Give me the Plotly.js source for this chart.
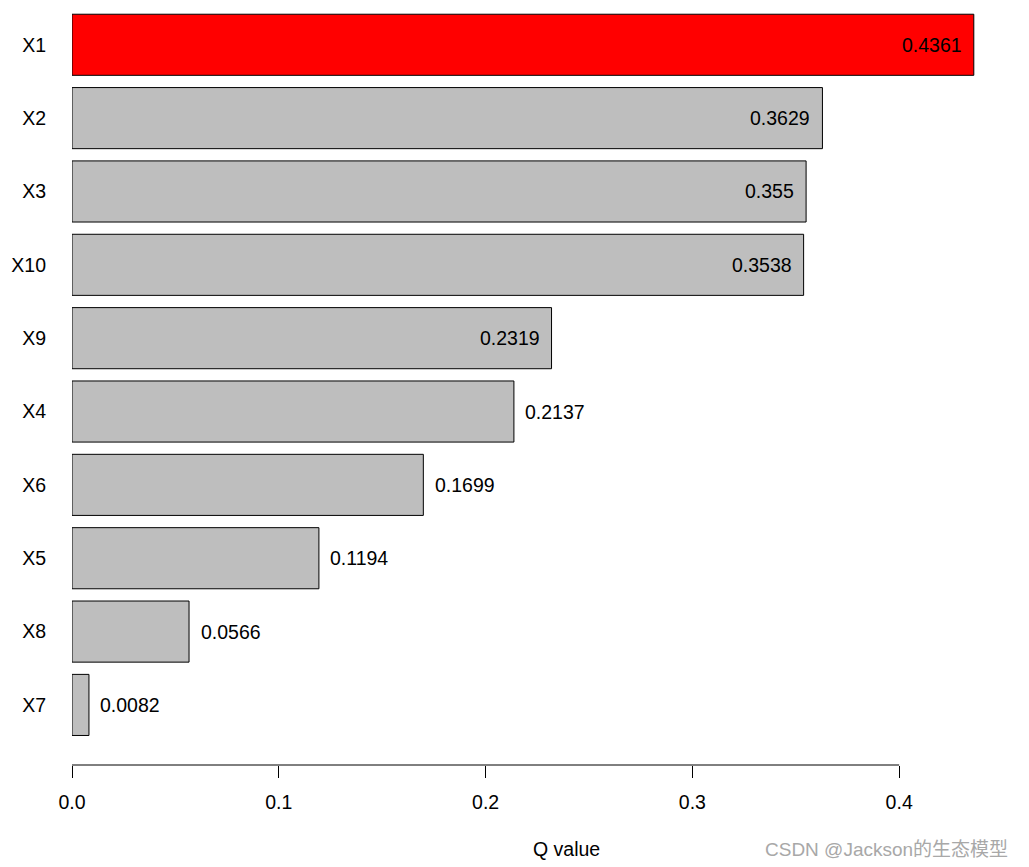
<!DOCTYPE html>
<html>
<head>
<meta charset="utf-8">
<script src="https://cdn.plot.ly/plotly-3.0.1.min.js"></script>
<style>
  html, body { margin: 0; padding: 0; background: #ffffff; }
  #chart { width: 1029px; height: 867px; }
</style>
</head>
<body>
<div id="chart"></div>
<script>
// ---- data ----
var categories = ['X1', 'X2', 'X3', 'X10', 'X9', 'X4', 'X6', 'X5', 'X8', 'X7'];
var qValues = [0.4361, 0.3629, 0.355, 0.3538, 0.2319, 0.2137, 0.1699, 0.1194, 0.0566, 0.0082];
var xTickVals = [0, 0.1, 0.2, 0.3, 0.4];
var xTickText = ['0.0', '0.1', '0.2', '0.3', '0.4'];
var xTitle = 'Q value';
var watermark = 'CSDN @Jackson的生态模型';

// ---- style ----
var FONT = 'Arial, "Liberation Sans", sans-serif';
var FS = 19.5;
var insideThreshold = 0.22;
var maxVal = Math.max.apply(null, qValues);
var colors = qValues.map(function (v) { return v === maxVal ? '#FF0000' : '#BEBEBE'; });

var trace = {
  type: 'bar',
  orientation: 'h',
  y: categories,
  x: qValues,
  width: 0.833,
  marker: { color: colors, line: { color: '#000000', width: 1 } },
  hoverinfo: 'none'
};

var annotations = qValues.map(function (v, i) {
  var inside = v > insideThreshold;
  return {
    x: v, y: categories[i], xref: 'x', yref: 'y',
    text: String(v),
    showarrow: false,
    xanchor: inside ? 'right' : 'left',
    xshift: inside ? -10 : 9.5,
    yanchor: 'middle',
    font: { family: FONT, size: FS, color: '#000000' }
  };
});

var L = 71.5, R = 25, T = 10, B = 101.5;
var W = 1029 - L - R, H = 867 - T - B;
// pixel -> paper helpers for the two free-standing texts
function px(xp) { return (xp - L) / W; }
function py(yp) { return (867 - B - yp) / H; }

annotations.push({
  x: px(566), xref: 'paper', y: py(850), yref: 'paper', showarrow: false,
  text: xTitle, font: { family: FONT, size: FS, color: '#000000' },
  xanchor: 'center', yanchor: 'middle'
});
annotations.push({
  x: px(1010), xref: 'paper', y: py(850), yref: 'paper', showarrow: false,
  text: watermark, font: { family: 'Arial, "Liberation Sans", "Noto Sans CJK SC", sans-serif', size: 19, color: '#A8A8A8' },
  xanchor: 'right', yanchor: 'middle'
});

var layout = {
  width: 1029,
  height: 867,
  margin: { l: L, r: R, t: T, b: B, pad: 0 },
  paper_bgcolor: '#ffffff',
  plot_bgcolor: '#ffffff',
  showlegend: false,
  font: { family: FONT, size: FS, color: '#000000' },
  xaxis: {
    range: [0, W / 2069],
    tickmode: 'array',
    tickvals: xTickVals,
    ticktext: xTickText,
    ticks: 'outside',
    ticklen: 12,
    tickwidth: 1,
    tickcolor: '#000000',
    showline: false,
    showgrid: false,
    zeroline: false,
    ticklabelstandoff: 8,
    tickfont: { family: FONT, size: FS, color: '#000000' },
    fixedrange: true
  },
  yaxis: {
    type: 'category',
    categoryorder: 'array',
    categoryarray: categories,
    range: [9.819, -0.474],
    ticks: '',
    showline: false,
    showgrid: false,
    zeroline: false,
    ticklabelstandoff: 25,
    tickfont: { family: FONT, size: FS, color: '#000000' },
    fixedrange: true
  },
  shapes: [{
    type: 'line', xref: 'x', yref: 'paper',
    x0: xTickVals[0], x1: xTickVals[xTickVals.length - 1], y0: 0, y1: 0,
    line: { color: '#000000', width: 1 }
  }],
  annotations: annotations
};

Plotly.newPlot('chart', [trace], layout, { displayModeBar: false, staticPlot: true });
</script>
</body>
</html>
